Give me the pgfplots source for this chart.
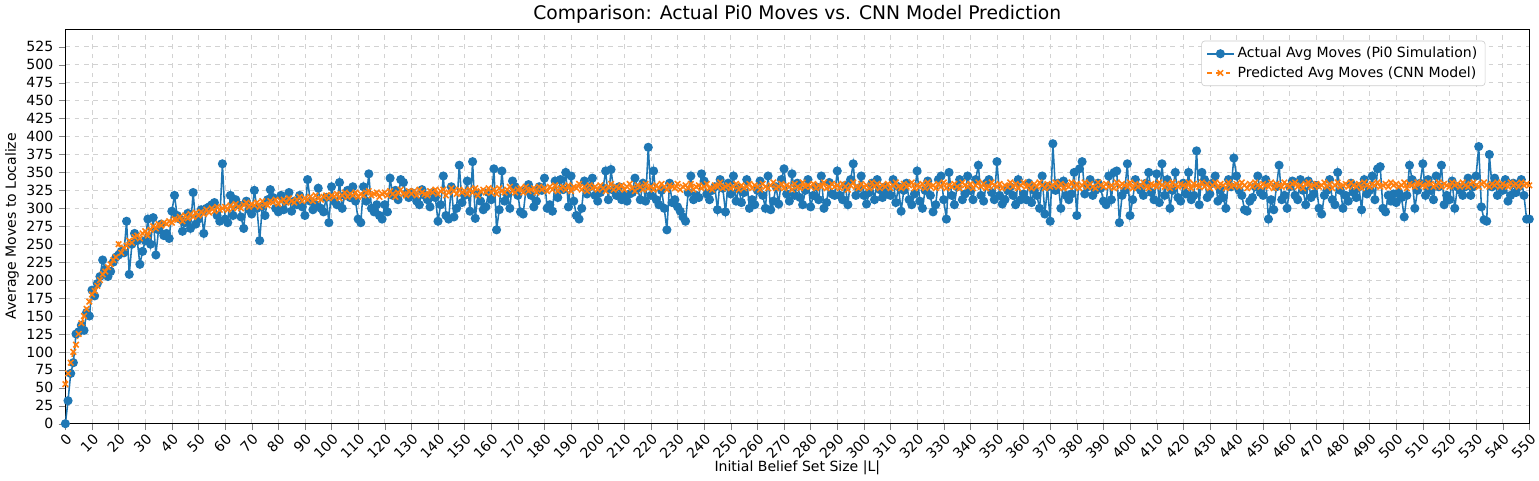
\documentclass[border=0pt]{standalone}
\usepackage{pgfplots}
\pgfplotsset{compat=1.18}
\usepackage{pgfplotstable}
\usepackage{fontspec}
\setmainfont{DejaVu Sans}
\pgfplotstableread[row sep=\\]{
y\\
0\\32\\70\\85\\125\\128\\137\\130\\155\\150\\
186\\178\\195\\205\\228\\215\\205\\212\\225\\232\\
235\\240\\238\\282\\208\\250\\265\\255\\222\\240\\
255\\285\\250\\287\\235\\270\\278\\262\\265\\258\\
296\\318\\290\\285\\268\\280\\293\\272\\322\\278\\
285\\298\\265\\300\\302\\305\\308\\290\\282\\362\\
285\\280\\318\\290\\312\\305\\288\\272\\310\\298\\
292\\325\\300\\255\\303\\290\\312\\326\\315\\300\\
295\\318\\298\\310\\322\\296\\310\\305\\318\\302\\
290\\340\\310\\298\\305\\328\\300\\295\\315\\280\\
330\\310\\305\\336\\300\\318\\325\\315\\330\\310\\
285\\280\\330\\310\\348\\300\\295\\305\\290\\285\\
305\\295\\342\\318\\325\\312\\340\\336\\320\\315\\
322\\318\\310\\305\\326\\318\\312\\302\\322\\315\\
282\\305\\345\\290\\285\\330\\288\\300\\360\\308\\
318\\338\\296\\365\\286\\320\\310\\298\\302\\322\\
312\\355\\270\\298\\352\\310\\320\\300\\338\\330\\
318\\295\\292\\325\\333\\318\\302\\310\\330\\325\\
342\\300\\305\\296\\338\\315\\340\\326\\350\\302\\
345\\310\\290\\285\\300\\338\\320\\330\\342\\318\\
310\\322\\328\\352\\312\\354\\325\\318\\330\\312\\
318\\310\\320\\322\\342\\328\\312\\335\\310\\385\\
318\\352\\312\\305\\325\\300\\270\\335\\308\\312\\
302\\296\\288\\282\\322\\345\\312\\318\\315\\348\\
338\\320\\312\\325\\330\\298\\340\\328\\295\\335\\
320\\345\\310\\328\\308\\322\\340\\300\\312\\305\\
325\\338\\318\\300\\345\\298\\310\\330\\306\\340\\
355\\320\\310\\348\\318\\335\\315\\305\\325\\340\\
302\\318\\330\\312\\345\\300\\308\\336\\320\\318\\
352\\318\\312\\332\\305\\340\\362\\318\\328\\345\\
318\\306\\322\\335\\312\\340\\326\\315\\330\\320\\
318\\340\\308\\330\\296\\325\\335\\312\\305\\320\\
352\\310\\300\\325\\338\\318\\295\\305\\340\\345\\
312\\285\\350\\318\\305\\330\\340\\312\\320\\345\\
325\\312\\340\\360\\318\\310\\335\\340\\322\\312\\
365\\318\\306\\312\\325\\330\\318\\305\\340\\312\\
320\\312\\335\\308\\325\\318\\300\\345\\292\\330\\
282\\390\\325\\335\\300\\338\\318\\312\\320\\350\\
290\\355\\365\\320\\330\\340\\318\\325\\335\\328\\
310\\305\\345\\312\\350\\352\\280\\318\\325\\362\\
290\\312\\340\\330\\325\\318\\335\\350\\322\\312\\
348\\308\\362\\318\\340\\300\\325\\350\\315\\310\\
335\\320\\350\\312\\318\\380\\305\\350\\340\\315\\
320\\335\\345\\310\\325\\315\\300\\340\\330\\370\\
345\\325\\318\\298\\296\\310\\315\\330\\345\\322\\
318\\340\\285\\312\\298\\330\\360\\312\\318\\300\\
330\\338\\318\\312\\340\\325\\305\\338\\315\\320\\
332\\300\\292\\318\\325\\340\\312\\305\\350\\325\\
300\\318\\310\\335\\322\\315\\330\\298\\340\\320\\
325\\345\\312\\355\\358\\300\\295\\318\\310\\320\\
308\\322\\315\\288\\318\\360\\340\\300\\325\\335\\
362\\318\\340\\325\\312\\345\\330\\360\\305\\318\\
312\\338\\300\\330\\325\\318\\330\\342\\318\\330\\
345\\386\\302\\284\\282\\375\\330\\342\\318\\330\\
325\\340\\310\\318\\335\\322\\330\\340\\318\\285\\285\\
}\actual
\pgfplotstableread[row sep=\\]{
y\\
55\\70\\85\\100\\110\\125\\140\\150\\160\\170\\
180\\185\\192\\200\\208\\212\\218\\222\\228\\232\\
250\\238\\245\\248\\255\\252\\260\\262\\258\\265\\
268\\262\\270\\275\\272\\278\\276\\280\\278\\282\\
280\\285\\284\\288\\282\\290\\286\\292\\288\\294\\
290\\295\\292\\298\\294\\300\\296\\302\\298\\300\\
302\\298\\304\\300\\306\\302\\300\\305\\308\\302\\
306\\304\\308\\302\\310\\306\\304\\310\\308\\312\\
306\\310\\312\\308\\314\\310\\308\\312\\316\\310\\
314\\312\\316\\310\\318\\314\\312\\316\\318\\314\\
318\\316\\320\\314\\318\\322\\316\\320\\318\\322\\
316\\320\\318\\322\\324\\318\\320\\322\\316\\320\\
322\\318\\324\\320\\316\\322\\326\\320\\318\\324\\
320\\324\\318\\326\\322\\320\\318\\324\\322\\326\\
320\\324\\326\\318\\322\\328\\324\\320\\326\\322\\
324\\320\\326\\322\\328\\318\\324\\326\\322\\328\\
322\\326\\320\\328\\324\\322\\326\\330\\324\\322\\
326\\328\\322\\330\\324\\326\\328\\322\\330\\326\\
328\\324\\330\\326\\332\\324\\328\\330\\326\\332\\
324\\330\\328\\334\\326\\330\\324\\332\\328\\330\\
326\\332\\328\\324\\330\\334\\326\\330\\328\\332\\
326\\330\\334\\328\\324\\332\\330\\326\\334\\328\\
330\\326\\332\\328\\334\\330\\326\\332\\330\\328\\
334\\326\\330\\332\\328\\334\\326\\330\\332\\328\\
330\\334\\328\\326\\332\\330\\336\\328\\330\\332\\
328\\330\\334\\326\\332\\328\\330\\334\\328\\332\\
330\\326\\334\\330\\328\\332\\336\\328\\330\\334\\
328\\332\\330\\326\\334\\330\\328\\336\\330\\332\\
330\\334\\328\\332\\330\\336\\328\\330\\334\\330\\
332\\328\\334\\330\\326\\332\\336\\330\\328\\334\\
330\\332\\328\\336\\330\\334\\328\\332\\330\\334\\
328\\332\\336\\330\\328\\334\\330\\332\\336\\328\\
332\\330\\334\\328\\336\\330\\332\\328\\334\\330\\
336\\328\\332\\330\\334\\330\\328\\336\\332\\330\\
334\\328\\332\\336\\330\\334\\328\\330\\336\\332\\
330\\334\\328\\332\\330\\336\\330\\334\\328\\332\\
336\\330\\332\\328\\334\\330\\336\\332\\328\\334\\
330\\332\\336\\330\\334\\328\\332\\330\\336\\330\\
334\\328\\332\\336\\330\\334\\330\\328\\336\\332\\
330\\334\\330\\332\\328\\336\\330\\334\\332\\330\\
336\\328\\334\\330\\332\\336\\330\\328\\334\\332\\
330\\336\\332\\330\\334\\328\\336\\332\\330\\334\\
332\\330\\336\\328\\334\\332\\330\\336\\330\\334\\
328\\332\\336\\330\\334\\332\\328\\336\\330\\332\\
334\\330\\336\\332\\328\\334\\330\\336\\332\\330\\
334\\332\\330\\336\\328\\334\\332\\330\\336\\332\\
330\\334\\336\\330\\332\\328\\334\\336\\330\\332\\
334\\330\\332\\336\\330\\334\\328\\332\\336\\330\\
332\\334\\330\\336\\332\\330\\334\\328\\336\\332\\
330\\334\\332\\336\\330\\332\\334\\330\\336\\332\\
334\\330\\332\\336\\328\\334\\332\\330\\336\\334\\
332\\330\\336\\334\\330\\332\\336\\330\\334\\332\\
330\\336\\332\\334\\330\\336\\332\\330\\334\\336\\
332\\330\\334\\336\\332\\330\\334\\332\\336\\330\\
334\\332\\330\\336\\332\\334\\330\\336\\332\\334\\332\\
}\pred
\definecolor{mplblue}{HTML}{1F77B4}
\definecolor{mplorange}{HTML}{FF7F0E}
\begin{document}
\begin{tikzpicture}
\begin{axis}[
  scale only axis,
  width=938pt, height=253pt,
  xmin=0, xmax=550, ymin=0, ymax=550,
  xtick={0,10,...,550}, ytick={0,25,...,525},
  x tick label style={rotate=45, anchor=north east, font=\small, inner sep=1pt},
  y tick label style={font=\small},
  /pgf/number format/assume math mode=true,
  grid=both, major grid style={gray!35, dashed, line width=0.4pt},
  tick align=outside, tick pos=left,
  xlabel={Initial Belief Set Size |L|}, ylabel={Average Moves to Localize},
  xlabel style={font=\small, yshift=4pt}, ylabel style={font=\small, yshift=-2pt},
  title={Comparison: Actual Pi0 Moves vs. CNN Model Prediction},
  title style={font=\large, yshift=-6pt},
  legend pos=north east,
  legend style={font=\small, draw=gray!40, rounded corners=2pt},
  legend cell align=left,
]
\addplot[mplblue, line width=1pt, mark=*, mark size=2.4pt] table[x expr=\coordindex, y=y] {\actual};
\addlegendentry{Actual Avg Moves (Pi0 Simulation)}
\addplot[mplorange, dashed, line width=1pt, mark=x, mark size=2.5pt, mark options={solid}] table[x expr=\coordindex, y=y] {\pred};
\addlegendentry{Predicted Avg Moves (CNN Model)}
\end{axis}
\end{tikzpicture}
\end{document}
